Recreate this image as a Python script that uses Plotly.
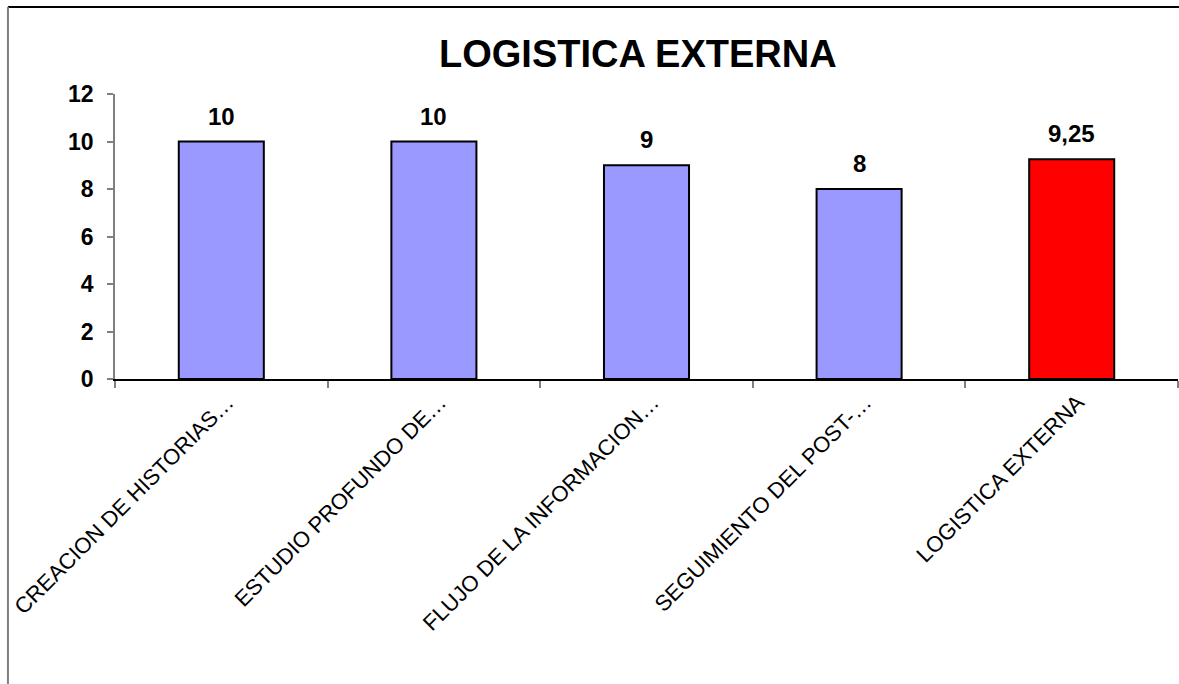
import plotly.graph_objects as go

# Scores per aspect of external logistics; the last bar is the overall average
categories = [
    "CREACION DE HISTORIAS…",
    "ESTUDIO PROFUNDO DE…",
    "FLUJO DE LA INFORMACION…",
    "SEGUIMIENTO DEL POST-…",
    "LOGISTICA EXTERNA",
]
values = [10, 10, 9, 8, 9.25]
bar_colors = ["#9999FF", "#9999FF", "#9999FF", "#9999FF", "#FF0000"]
y_ticks = [0, 2, 4, 6, 8, 10, 12]

FONT = "Liberation Sans, Arial, sans-serif"


def fmt(v):
    return f"{v:g}".replace(".", ",")


fig = go.Figure(
    go.Bar(
        x=categories,
        y=values,
        marker=dict(color=bar_colors, line=dict(color="#000000", width=2)),
        width=0.4,
        hoverinfo="x+y",
    )
)

# Value labels above each bar
for c, v in zip(categories, values):
    fig.add_annotation(
        x=c, y=v, text=f"<b>{fmt(v)}</b>", showarrow=False,
        yanchor="bottom", yshift=10,
        font=dict(family=FONT, size=24, color="#000000"),
    )

# Chart frame: top and left edges
fig.add_shape(type="line", xref="paper", yref="paper",
              x0=-0.1007, x1=1.01, y0=1.305, y1=1.305,
              line=dict(color="#000000", width=2))
fig.add_shape(type="line", xref="paper", yref="paper",
              x0=-0.1007, x1=-0.1007, y0=1.305, y1=-1.2,
              line=dict(color="#808080", width=2))

fig.update_layout(
    width=1179,
    height=684,
    margin=dict(l=115, r=1, t=94, b=305),
    paper_bgcolor="#FFFFFF",
    plot_bgcolor="#FFFFFF",
    showlegend=False,
    title=dict(
        text="<b>LOGISTICA EXTERNA</b>",
        x=0.541, xanchor="center",
        y=0.921, yanchor="middle",
        font=dict(family=FONT, size=38, color="#000000"),
    ),
    xaxis=dict(
        automargin=False,
        tickangle=-45,
        tickfont=dict(family=FONT, size=22, color="#000000"),
        ticklabelshift=6,
        showline=True, linecolor="#000000", linewidth=1.5,
        ticks="outside", tickson="boundaries", ticklen=7,
        tickcolor="#808080", tickwidth=1.5,
        showgrid=False, zeroline=False,
    ),
    yaxis=dict(
        automargin=False,
        range=[0, 12],
        tickvals=y_ticks,
        ticktext=[f"<b>{t}</b>" for t in y_ticks],
        tickfont=dict(family=FONT, size=23, color="#000000"),
        showline=True, linecolor="#808080", linewidth=1.5,
        ticks="outside", ticklen=6, tickcolor="#808080", tickwidth=1.5,
        ticklabelstandoff=9,
        showgrid=False, zeroline=False,
    ),
)

fig.write_html("out.html")
